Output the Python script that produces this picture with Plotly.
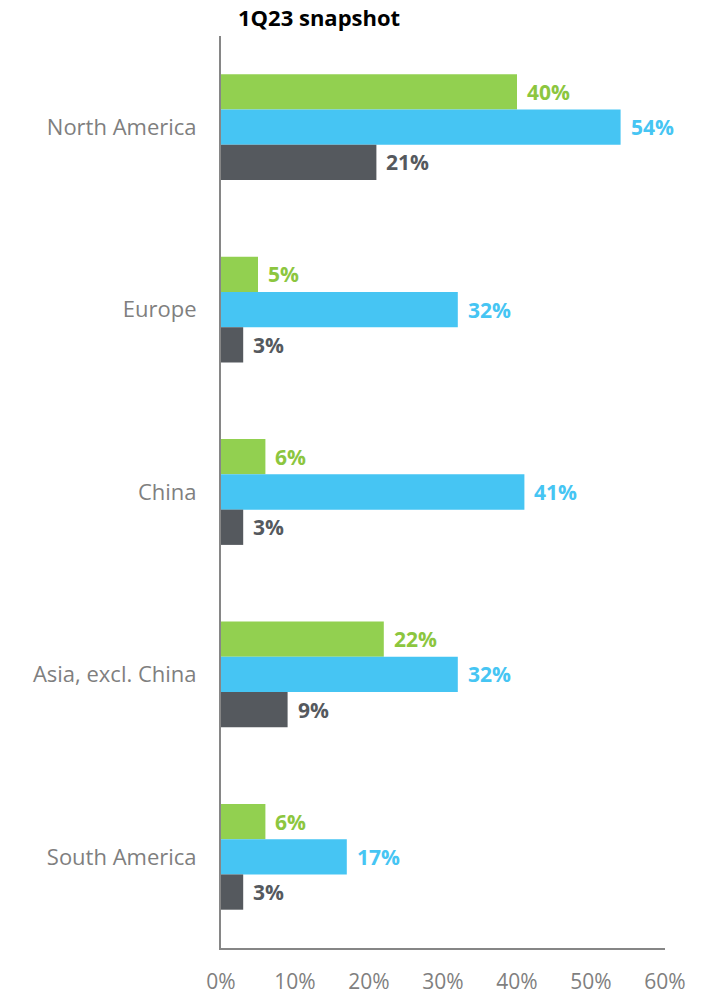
import plotly.graph_objects as go

# Regional data, 1Q23
regions = ["North America", "Europe", "China", "Asia, excl. China", "South America"]
series_a = [40, 5, 6, 22, 6]
series_b = [54, 32, 41, 32, 17]
series_c = [21, 3, 3, 9, 3]
x_ticks = [0, 10, 20, 30, 40, 50, 60]
x_tick_labels = ["0%", "10%", "20%", "30%", "40%", "50%", "60%"]

bar_colors = ["#92D050", "#46C5F3", "#55595E"]
label_colors = ["#8CC63F", "#46C5F3", "#55595E"]
FONT = "Open Sans"
BARGAP = 0.42

fig = go.Figure()
annotations = []
for name, vals, bc in zip(["A", "B", "C"], [series_a, series_b, series_c], bar_colors):
    fig.add_trace(go.Bar(
        y=regions, x=vals, orientation="h", name=name,
        marker=dict(color=bc, line=dict(width=0)),
        showlegend=False, hoverinfo="x+y",
    ))

# value labels placed just past the end of each bar
bw = (1 - BARGAP) / 3
offsets = [-bw, 0.0, bw]
for k, (vals, lc) in enumerate(zip([series_a, series_b, series_c], label_colors)):
    for i, v in enumerate(vals):
        annotations.append(dict(
            x=v, y=i + offsets[k], xref="x", yref="y",
            text=f"<b>{v}%</b>", showarrow=False, xanchor="left",
            xshift=8, font=dict(family=FONT, size=21, color=lc),
        ))

# chart title above the plot area
pw, ph = 705 - 221 - 40, 995 - 36 - 47
annotations.append(dict(
    x=(319 - 221) / pw, y=1 + (36 - 17) / ph, xref="paper", yref="paper",
    xanchor="center", yanchor="middle",
    text="<b>1Q23 snapshot</b>", showarrow=False,
    font=dict(family=FONT, size=22, color="#000000"),
))

fig.update_layout(
    width=705, height=995,
    margin=dict(l=221, r=40, t=36, b=47, autoexpand=False),
    paper_bgcolor="white", plot_bgcolor="white",
    barmode="group", bargap=BARGAP, bargroupgap=0,
    annotations=annotations,
    font=dict(family=FONT),
    xaxis=dict(
        range=[0, 60], tickvals=x_ticks, ticktext=x_tick_labels,
        showgrid=False, zeroline=False, automargin=False,
        showline=True, linecolor="#868686", linewidth=2,
        ticks="outside", ticklen=14, tickcolor="rgba(0,0,0,0)",
        tickfont=dict(family=FONT, size=21, color="#7F7F7F"),
        fixedrange=True,
    ),
    yaxis=dict(
        autorange="reversed", showgrid=False, zeroline=False, automargin=False,
        showline=True, linecolor="#868686", linewidth=2,
        ticks="", ticklabelstandoff=18,
        tickfont=dict(family=FONT, size=22, color="#7F7F7F"),
        fixedrange=True,
    ),
)

fig.write_html("out.html")
